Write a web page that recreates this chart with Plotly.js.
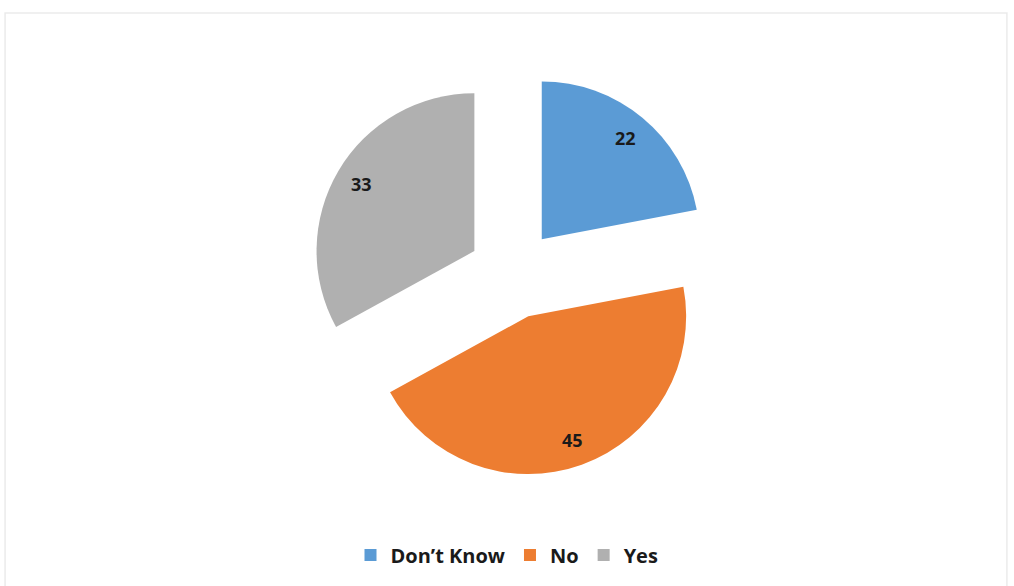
<!DOCTYPE html>
<html>
<head>
<meta charset="utf-8">
<script src="https://cdn.plot.ly/plotly-3.0.1.min.js"></script>
<style>html,body{margin:0;padding:0;background:#fff;}#chart{width:1014px;height:586px;}</style>
</head>
<body>
<div id="chart"></div>
<script>
const categories = ["Don’t Know", "No", "Yes"];
const values = [22, 45, 33];
const colors = ["#5B9BD5", "#ED7D31", "#B0B0B0"];

const W = 1014, H = 586;
const domX = [0.306, 0.706], domY = [0.186, 0.879];
const pullFrac = 0.285;
const labelFrac = 0.83;

// label positions derived from the data (slice mid-angles), placed further out like the original
const total = values.reduce((a, b) => a + b, 0);
const cxPx = (domX[0] + domX[1]) / 2 * W;
const cyPx = (1 - (domY[0] + domY[1]) / 2) * H;
const rPx = Math.min((domX[1] - domX[0]) * W, (domY[1] - domY[0]) * H) / 2 / (1 + pullFrac);
let cum = 0;
const annotations = values.map((v, i) => {
  const mid = (cum + v / 2) / total * 2 * Math.PI;
  cum += v;
  const d = (pullFrac + labelFrac) * rPx;
  const px = cxPx + d * Math.sin(mid);
  const py = cyPx - d * Math.cos(mid);
  return {
    xref: "paper", yref: "paper", x: px / W, y: 1 - py / H,
    xanchor: "center", yanchor: "middle", showarrow: false,
    text: String(v),
    font: {family: "Open Sans, Liberation Sans, sans-serif", size: 18, color: "#1a1a1a", weight: 700}
  };
});

const trace = {
  type: "pie",
  labels: categories,
  values: values,
  textinfo: "none",
  marker: {colors: colors, line: {width: 0}},
  sort: false,
  direction: "clockwise",
  rotation: 0,
  pull: values.map(() => pullFrac),
  hoverinfo: "label+value",
  domain: {x: domX, y: domY}
};

const layout = {
  width: W,
  height: H,
  margin: {l: 0, r: 0, t: 0, b: 0},
  paper_bgcolor: "#ffffff",
  showlegend: true,
  legend: {
    orientation: "h",
    x: 0.5, xanchor: "center",
    y: 0.053, yanchor: "middle",
    font: {family: "Open Sans, Liberation Sans, sans-serif", size: 20, color: "#1a1a1a", weight: 700},
    itemwidth: 30,
    traceorder: "normal"
  },
  annotations: annotations,
  shapes: [{
    type: "rect", xref: "paper", yref: "paper",
    x0: 0.005, x1: 0.993, y0: -0.01, y1: 0.978,
    line: {color: "#ebebeb", width: 1.5}, fillcolor: "rgba(0,0,0,0)"
  }]
};

Plotly.newPlot("chart", [trace], layout, {displayModeBar: false, staticPlot: true});
</script>
</body>
</html>
